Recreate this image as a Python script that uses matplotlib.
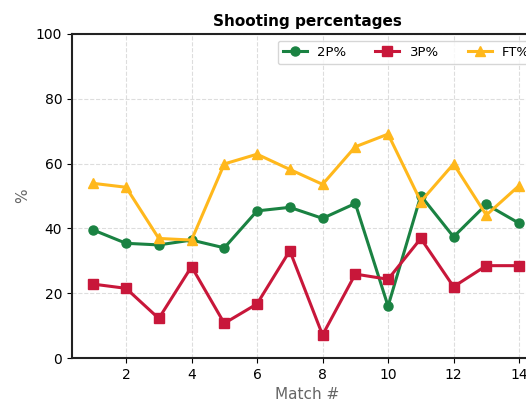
import numpy as np
import matplotlib.pyplot as plt

# Shooting percentages per match
matches = np.arange(1, 15)
two_pt = [39.5, 35.4, 34.9, 36.4, 34.0, 45.4, 46.5, 43.1, 47.7, 16.0, 50.1, 37.4, 47.4, 41.6]
three_pt = [22.8, 21.5, 12.2, 28.2, 10.7, 16.7, 33.1, 7.1, 25.9, 24.3, 36.9, 22.0, 28.5, 28.5]
free_throw = [53.9, 52.7, 36.9, 36.4, 59.9, 62.9, 58.2, 53.6, 65.2, 69.1, 48.3, 59.9, 44.1, 53.2]

fig = plt.figure(figsize=(5.26, 4.07), dpi=100)
# axes run past the right edge, like the cropped original
ax = fig.add_axes([72 / 526, 49 / 407, 470 / 526, 324 / 407])

ax.plot(matches, two_pt, color='#1a8242', marker='o', lw=2.2, ms=6.5, label='2P%')
ax.plot(matches, three_pt, color='#c8173a', marker='s', lw=2.2, ms=6.5, label='3P%')
ax.plot(matches, free_throw, color='#ffb81c', marker='^', lw=2.2, ms=6.5, label='FT%')

ax.set_xlim(0.35, 14.7)
ax.set_ylim(0, 100)
ax.set_xticks(np.arange(2, 15, 2))
ax.set_yticks(np.arange(0, 101, 20))
ax.grid(True, ls='--', color='#dddddd', lw=0.8)
ax.set_axisbelow(True)
for s in ax.spines.values():
    s.set_linewidth(1.5)
    s.set_color('#222222')

ax.set_title('Shooting percentages', fontweight='bold', fontsize=11)
ax.set_xlabel('Match #', color='#666666', fontsize=11)
ax.set_ylabel('%', color='#666666', fontsize=11)
ax.tick_params(labelsize=10)
ax.legend(loc='upper right', ncol=3, fontsize=9.5, columnspacing=2.2,
          handlelength=1.8)

fig.savefig('out.png')
